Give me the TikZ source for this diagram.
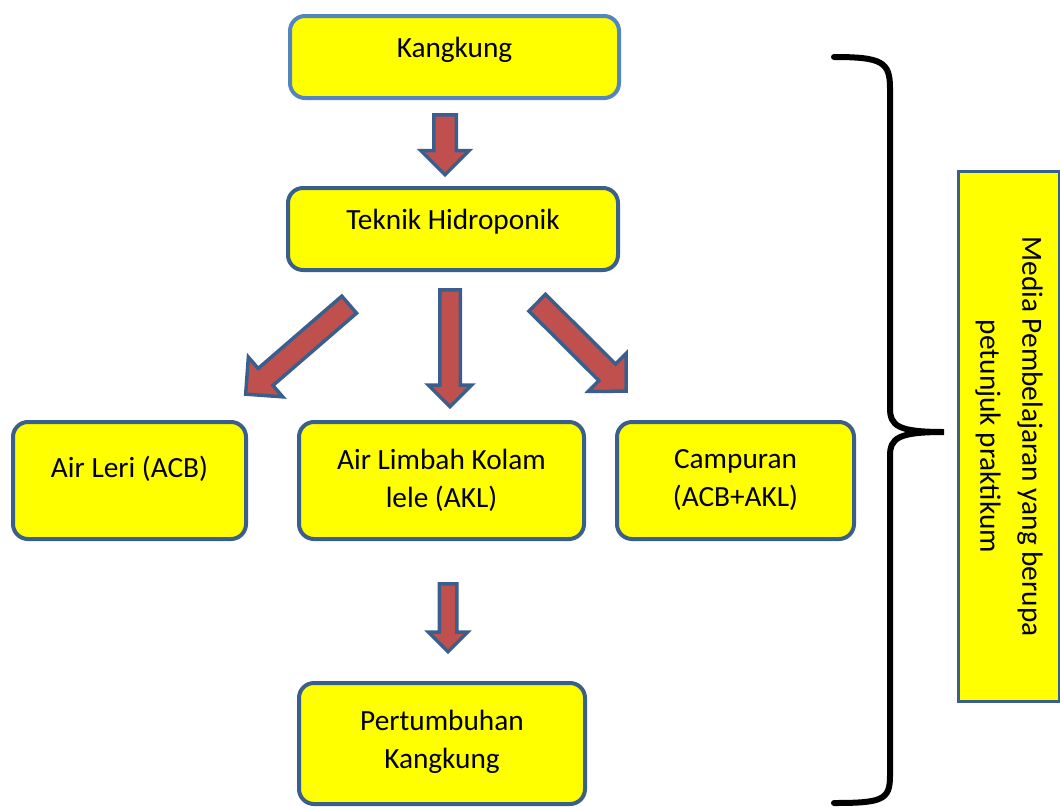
\documentclass[tikz,border=0pt]{standalone}
\usepackage{fontspec}
\setmainfont{Carlito}
\usetikzlibrary{shapes.arrows,calc}

\definecolor{boxyellow}{HTML}{FFFF00}
\definecolor{lineblue}{HTML}{3B5F8C}
\definecolor{lightblue}{HTML}{5585C0}
\definecolor{arrowred}{HTML}{C0504D}

% block arrow from tail #2 to tip #3, #1 = extra options
\newcommand\blockarrow[3][]{%
  \path let \p1=(#2), \p2=(#3), \n1={atan2(\y2-\y1,\x2-\x1)},
        \n2={veclen(\x2-\x1,\y2-\y1)} in
    node[bigarrow,#1,anchor=tail,minimum height=\n2,rotate=\n1] at (#2) {};}

\begin{document}
\begin{tikzpicture}[x=1pt,y=-1pt,
  stepbox/.style={draw=lineblue,fill=boxyellow,line width=4pt,rounded corners=15pt,
    align=center,inner sep=0pt,font=\fontsize{29.3}{38}\selectfont},
  bigarrow/.style={single arrow,draw=lineblue,fill=arrowred,line width=3.5pt,
    inner xsep=0pt,minimum width=0pt,single arrow head indent=0pt},
  bracestyle/.style={draw=black,line width=6pt,line cap=round}]
\clip (0,0) rectangle (1060,809);

% boxes
\node [stepbox,draw=lightblue,minimum width=329,minimum height=82,text depth=20pt] (kang) at (454.5,57) {Kangkung};
\node [stepbox,minimum width=330,minimum height=82,text depth=20pt] (tek) at (453,229) {Teknik Hidroponik};
\node [stepbox,minimum width=233,minimum height=117,text depth=27pt] (leri) at (129.5,480.5) {Air Leri (ACB)};
\node [stepbox,minimum width=285,minimum height=117] (limbah) at (441.5,480.5) {Air Limbah Kolam\\lele (AKL)};
\node [stepbox,minimum width=237,minimum height=117] (camp) at (735.5,480.5) {Campuran\\(ACB+AKL)};
\node [stepbox,minimum width=286,minimum height=121] (pert) at (442,743.5) {Pertumbuhan\\Kangkung\\[-30pt]};
\node [draw=lineblue,fill=boxyellow,line width=3pt,rotate=-90,minimum width=530,minimum height=101,
  align=center,inner sep=0pt,font=\fontsize{29.3}{42}\selectfont] (media) at (1009,436.5)
  {Media Pembelajaran yang berupa\\petunjuk praktikum};

% arrow ends
\coordinate (a1t) at (445,113);  \coordinate (a1h) at (445,173);
\coordinate (a2t) at (450,288);  \coordinate (a2h) at (450,405);
\coordinate (a3t) at (350.5,303.5); \coordinate (a3h) at (247,393);
\coordinate (a4t) at (536,301.5); \coordinate (a4h) at (625,390);
\coordinate (a5t) at (448,582);  \coordinate (a5h) at (448,650);

\blockarrow[inner ysep=9.5pt,single arrow head extend=13pt]{a1t}{a1h}
\blockarrow[inner ysep=8.5pt,single arrow head extend=11.5pt]{a2t}{a2h}
\blockarrow[inner ysep=9.5pt,single arrow head extend=15pt]{a3t}{a3h}
\blockarrow[inner ysep=10pt,single arrow head extend=15pt]{a4t}{a4h}
\blockarrow[inner ysep=7pt,single arrow head extend=11pt]{a5t}{a5h}

% brace
\draw [bracestyle] (834,57) .. controls (882,57) and (890,62) .. (890,88) -- (890,408)
  .. controls (890,426) and (898,432) .. (944,432)
  .. controls (898,432) and (890,438) .. (890,456) -- (890,776)
  .. controls (890,800) and (882,803) .. (834,803);
\end{tikzpicture}
\end{document}
